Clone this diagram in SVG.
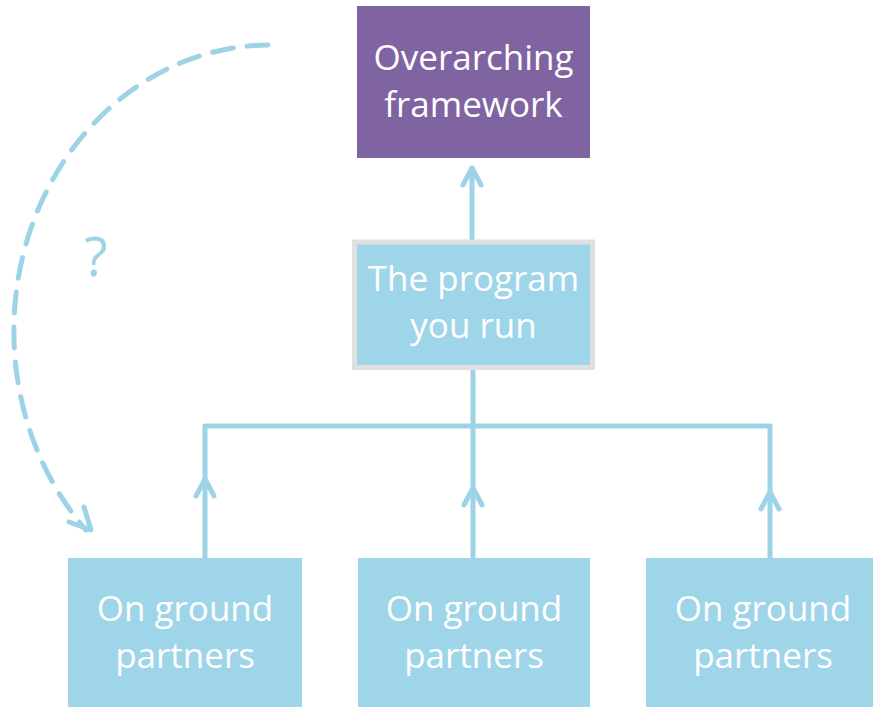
<svg xmlns="http://www.w3.org/2000/svg" width="873" height="707" viewBox="0 0 873 707">
  <defs>
    <style>
      .box { fill: #9FD5E8; }
      .lbl { font-family: "Open Sans", "Noto Sans", sans-serif; font-size: 35px; fill: #FFFFFF; text-anchor: middle; }
      .con { fill: none; stroke: #9DD3E6; stroke-width: 5; stroke-linecap: round; stroke-linejoin: round; }
    </style>
  </defs>
  <rect width="873" height="707" fill="#FFFFFF"/>

  <g id="connectors">
    <!-- program -> framework -->
    <path class="con" d="M472 242 L472 168"/>
    <path class="con" d="M463 185 L472 168 L481 185"/>
    <!-- tree -->
    <path class="con" d="M473 370 L473 560"/>
    <path class="con" d="M205 562 L205 426 L770 426 L770 560"/>
    <path class="con" d="M196 496 L205 479 L214 496"/>
    <path class="con" d="M464 505 L473 488 L482 505"/>
    <path class="con" d="M761 509 L770 492 L779 509"/>
    <!-- dashed question arc -->
    <path class="con" stroke-linecap="butt" stroke-dasharray="21 14" d="M268 45 A256 286 0 0 0 86 530"/>
    <path class="con" d="M69 522 L91 530 L84 507"/>
  </g>

  <g id="framework">
    <rect x="357" y="6" width="233" height="152" fill="#8064A2"/>
    <text class="lbl" x="473.5" y="70">Overarching</text>
    <text class="lbl" x="473.5" y="117">framework</text>
  </g>

  <g id="program">
    <rect class="box" x="354.5" y="242" width="238" height="125.5" stroke="#E0E0E0" stroke-width="5"/>
    <text class="lbl" x="473.5" y="291">The program</text>
    <text class="lbl" x="473.5" y="338">you run</text>
  </g>

  <g id="partners1">
    <rect class="box" x="68" y="558" width="234" height="149"/>
    <text class="lbl" x="185" y="621">On ground</text>
    <text class="lbl" x="185" y="668">partners</text>
  </g>

  <g id="partners2">
    <rect class="box" x="358" y="558" width="232" height="149"/>
    <text class="lbl" x="474" y="621">On ground</text>
    <text class="lbl" x="474" y="668">partners</text>
  </g>

  <g id="partners3">
    <rect class="box" x="646" y="558" width="234" height="149"/>
    <text class="lbl" x="763" y="621">On ground</text>
    <text class="lbl" x="763" y="668">partners</text>
  </g>

  <g id="question">
    <text x="96" y="276" font-family="'Open Sans', 'Noto Sans', sans-serif" font-size="54" fill="#9DD3E6" text-anchor="middle">?</text>
  </g>
</svg>
